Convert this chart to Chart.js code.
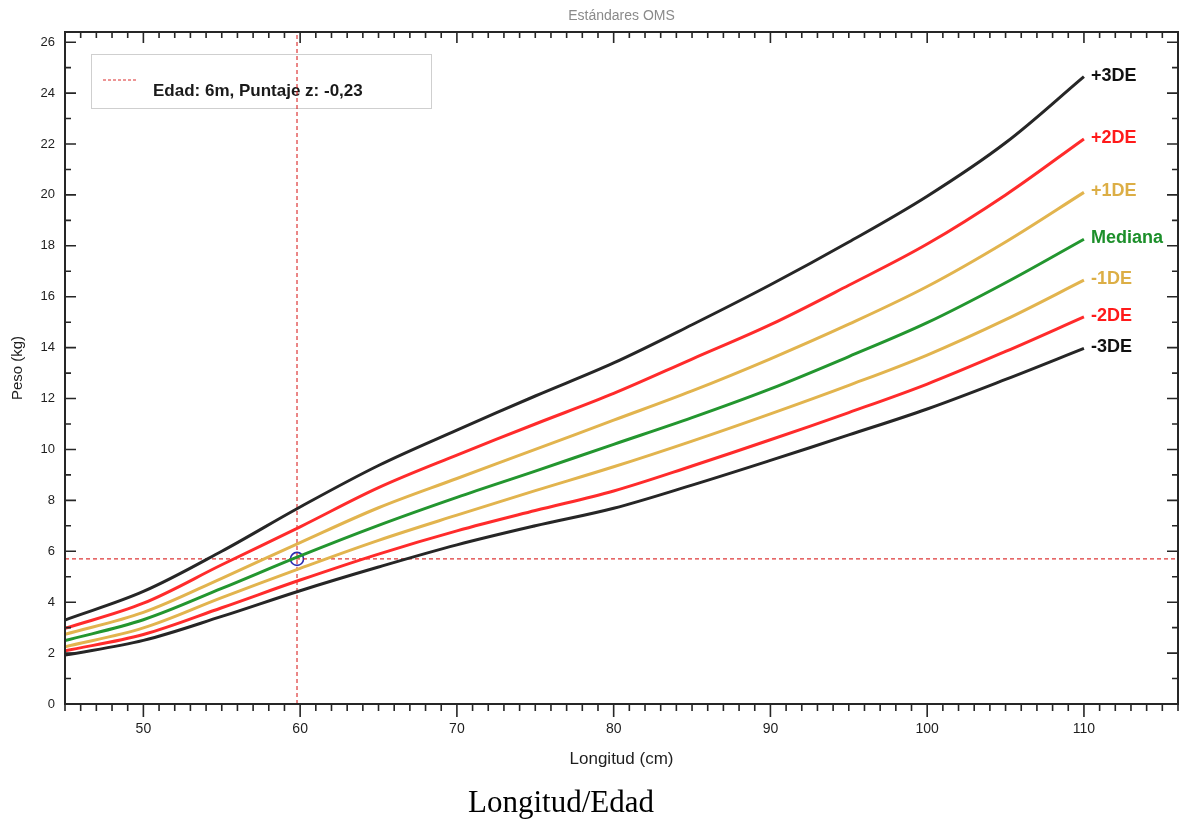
<!DOCTYPE html>
<html>
<head>
<meta charset="utf-8">
<title>Longitud/Edad</title>
<script src="https://cdn.jsdelivr.net/npm/chart.js@4.4.1/dist/chart.umd.min.js"></script>
<style>
  body { margin: 0; background: #fff; }
  #wrap { position: relative; width: 1187px; height: 826px; }
  #caption {
    position: absolute; left: 0; top: 784px; width: 1122px;
    text-align: center; font-family: "Liberation Serif", "DejaVu Serif", serif;
    font-size: 31px; color: #000;
  }
</style>
</head>
<body>
<div id="wrap">
  <canvas id="grafico" width="1187" height="826"></canvas>
  <div id="caption">Longitud/Edad</div>
</div>
<script>
// Longitud (cm) y peso (kg) de las curvas OMS
const longitudes = [45, 50, 55, 60, 65, 70, 75, 80, 85, 90, 95, 100, 105, 110];
const menos3DE = [1.92, 2.5, 3.44, 4.45, 5.38, 6.25, 7.0, 7.69, 8.6, 9.57, 10.57, 11.59, 12.75, 13.97];
const menos2DE = [2.09, 2.73, 3.78, 4.87, 5.89, 6.8, 7.6, 8.37, 9.35, 10.38, 11.45, 12.57, 13.85, 15.21];
const menos1DE = [2.25, 2.99, 4.18, 5.33, 6.43, 7.42, 8.38, 9.32, 10.33, 11.4, 12.52, 13.71, 15.1, 16.65];
const mediana  = [2.49, 3.31, 4.54, 5.82, 7.02, 8.12, 9.15, 10.2, 11.25, 12.38, 13.65, 14.98, 16.55, 18.26];
const mas1DE   = [2.74, 3.6, 4.94, 6.34, 7.71, 8.86, 10.0, 11.15, 12.3, 13.56, 14.92, 16.4, 18.15, 20.1];
const mas2DE   = [2.97, 3.96, 5.47, 6.96, 8.5, 9.78, 11.0, 12.2, 13.55, 14.9, 16.45, 18.07, 20.0, 22.2];
const mas3DE   = [3.3, 4.42, 6.0, 7.74, 9.37, 10.76, 12.1, 13.4, 14.9, 16.47, 18.15, 19.95, 22.05, 24.65];

// Punto del paciente
const pacienteLongitud = 59.8;
const pacientePeso = 5.7;
const leyendaTexto = 'Edad: 6m, Puntaje z: -0,23';

// Ticks
const xTicks = [50, 60, 70, 80, 90, 100, 110];
const yTicks = [0, 2, 4, 6, 8, 10, 12, 14, 16, 18, 20, 22, 24, 26];
const xMin = 45, xMax = 116, yMin = 0, yMax = 26.4;

const NEGRO = '#262626';
const ROJO = '#ff2b2b';
const AMARILLO = '#e2b44e';
const VERDE = '#23962f';
const FUENTE = '"Liberation Sans", Arial, sans-serif';

const curvas = [
  { label: '+3DE', data: mas3DE, color: NEGRO, texto: '#111' },
  { label: '+2DE', data: mas2DE, color: ROJO, texto: '#ff1a1a' },
  { label: '+1DE', data: mas1DE, color: AMARILLO, texto: '#dcae45' },
  { label: 'Mediana', data: mediana, color: VERDE, texto: '#1c8f2a' },
  { label: '-1DE', data: menos1DE, color: AMARILLO, texto: '#dcae45' },
  { label: '-2DE', data: menos2DE, color: ROJO, texto: '#ff1a1a' },
  { label: '-3DE', data: menos3DE, color: NEGRO, texto: '#111' }
];

const datasets = curvas.map(c => ({
  label: c.label,
  data: longitudes.map((x, i) => ({ x: x, y: c.data[i] })),
  borderColor: c.color,
  borderWidth: 3,
  pointRadius: 0,
  tension: 0.35,
  etiqueta: c.texto
}));

// lineas de referencia punteadas
datasets.push({
  label: 'vertical',
  data: [{ x: pacienteLongitud, y: yMin }, { x: pacienteLongitud, y: yMax }],
  borderColor: 'rgba(215,20,20,0.85)', borderWidth: 1.2, borderDash: [4, 3], pointRadius: 0
});
datasets.push({
  label: 'horizontal',
  data: [{ x: xMin, y: pacientePeso }, { x: xMax, y: pacientePeso }],
  borderColor: 'rgba(215,20,20,0.85)', borderWidth: 1.2, borderDash: [4, 3], pointRadius: 0
});
datasets.push({
  label: 'paciente',
  type: 'scatter',
  data: [{ x: pacienteLongitud, y: pacientePeso }],
  pointRadius: 6.5, pointBorderWidth: 1.6,
  pointBorderColor: '#2a2ab0', pointBackgroundColor: 'rgba(0,0,0,0)'
});

// Leyenda (debajo de las lineas) y titulo
const fondo = {
  id: 'fondo',
  beforeDatasetsDraw(chart) {
    const { ctx, chartArea: a } = chart;
    ctx.save();
    ctx.fillStyle = '#8a8a8a';
    ctx.font = '14px ' + FUENTE;
    ctx.textAlign = 'center';
    ctx.textBaseline = 'middle';
    ctx.fillText('Estándares OMS', (a.left + a.right) / 2, 16);

    const lx = a.left + 26, ly = a.top + 22;
    ctx.fillStyle = '#fff';
    ctx.fillRect(lx, ly, 340, 54);
    ctx.strokeStyle = '#cfcfcf';
    ctx.lineWidth = 1;
    ctx.strokeRect(lx + 0.5, ly + 0.5, 340, 54);
    ctx.strokeStyle = 'rgba(215,20,20,0.9)';
    ctx.setLineDash([3, 2]);
    ctx.beginPath();
    ctx.moveTo(lx + 12, ly + 26); ctx.lineTo(lx + 47, ly + 26);
    ctx.stroke();
    ctx.setLineDash([]);
    ctx.fillStyle = '#1a1a1a';
    ctx.font = 'bold 17px ' + FUENTE;
    ctx.textAlign = 'left';
    ctx.fillText(leyendaTexto, lx + 62, ly + 37);
    ctx.restore();
  }
};

// Marcas de ejes, borde y etiquetas de curvas
const decoracion = {
  id: 'decoracion',
  afterDraw(chart) {
    const { ctx, chartArea: a, scales } = chart;
    const xs = scales.x, ys = scales.y;
    ctx.save();
    ctx.strokeStyle = NEGRO;
    ctx.lineWidth = 1.6;
    ctx.beginPath();
    for (let v = Math.ceil(xMin); v <= xMax; v++) {
      const px = xs.getPixelForValue(v);
      const mayor = v % 10 === 0;
      ctx.moveTo(px, a.bottom); ctx.lineTo(px, a.bottom + (mayor ? 13 : 7));
      ctx.moveTo(px, a.top); ctx.lineTo(px, a.top + (mayor ? 11 : 6));
    }
    for (let v = 0; v <= yMax; v++) {
      const py = ys.getPixelForValue(v);
      const mayor = v % 2 === 0;
      ctx.moveTo(a.left, py); ctx.lineTo(a.left + (mayor ? 11 : 6), py);
      ctx.moveTo(a.right, py); ctx.lineTo(a.right - (mayor ? 11 : 6), py);
    }
    ctx.stroke();
    ctx.lineWidth = 2;
    ctx.strokeRect(a.left, a.top, a.right - a.left, a.bottom - a.top);

    ctx.font = 'bold 18px ' + FUENTE;
    ctx.textAlign = 'left';
    ctx.textBaseline = 'middle';
    chart.data.datasets.forEach((ds, i) => {
      if (!ds.etiqueta) return;
      const pts = chart.getDatasetMeta(i).data;
      const p = pts[pts.length - 1];
      ctx.fillStyle = ds.etiqueta;
      ctx.fillText(ds.label, p.x + 7, p.y - 1);
    });
    ctx.restore();
  }
};

new Chart(document.getElementById('grafico'), {
  type: 'line',
  data: { datasets: datasets },
  options: {
    responsive: false,
    animation: false,
    layout: { padding: { top: 32, right: 9, bottom: 52, left: 0 } },
    plugins: { legend: { display: false }, tooltip: { enabled: false } },
    scales: {
      x: {
        type: 'linear', min: xMin, max: xMax,
        grid: { display: false, drawTicks: false },
        border: { display: true, color: NEGRO, width: 2 },
        afterBuildTicks: s => { s.ticks = xTicks.map(v => ({ value: v })); },
        afterFit: s => { s.height = 70; },
        ticks: { padding: 17, color: '#1e1e1e', font: { size: 14, family: FUENTE }, maxRotation: 0 },
        title: { display: true, text: 'Longitud (cm)', color: '#1e1e1e', font: { size: 17, family: FUENTE }, padding: { top: 4, bottom: 4 } }
      },
      y: {
        type: 'linear', min: yMin, max: yMax,
        grid: { display: false, drawTicks: false },
        border: { display: true, color: NEGRO, width: 2 },
        afterBuildTicks: s => { s.ticks = yTicks.map(v => ({ value: v })); },
        afterFit: s => { s.width = 65; },
        ticks: { padding: 10, color: '#1e1e1e', font: { size: 13, family: FUENTE } },
        title: { display: true, text: 'Peso (kg)', color: '#1e1e1e', font: { size: 15, family: FUENTE }, padding: { top: 9, bottom: 2 } }
      }
    }
  },
  plugins: [fondo, decoracion]
});
</script>
</body>
</html>
